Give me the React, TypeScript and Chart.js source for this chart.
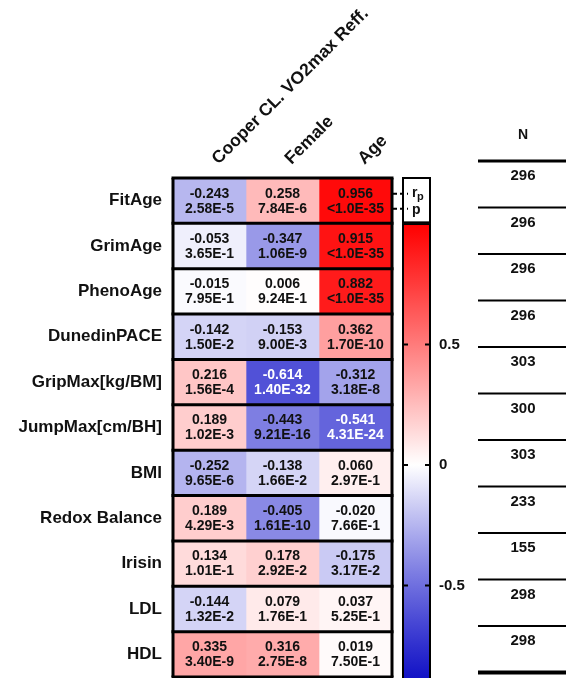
import React, { useEffect, useRef } from 'react';
import { Chart, registerables } from 'chart.js';
Chart.register(...registerables);

const rowLabels = ['FitAge', 'GrimAge', 'PhenoAge', 'DunedinPACE', 'GripMax[kg/BM]', 'JumpMax[cm/BH]', 'BMI', 'Redox Balance', 'Irisin', 'LDL', 'HDL'];
const colLabels = ['Cooper CL. VO2max Reff.', 'Female', 'Age'];

const rCooper = [-0.243, -0.053, -0.015, -0.142, 0.216, 0.189, -0.252, 0.189, 0.134, -0.144, 0.335];
const pCooper = ['2.58E-5', '3.65E-1', '7.95E-1', '1.50E-2', '1.56E-4', '1.02E-3', '9.65E-6', '4.29E-3', '1.01E-1', '1.32E-2', '3.40E-9'];
const rFemale = [0.258, -0.347, 0.006, -0.153, -0.614, -0.443, -0.138, -0.405, 0.178, 0.079, 0.316];
const pFemale = ['7.84E-6', '1.06E-9', '9.24E-1', '9.00E-3', '1.40E-32', '9.21E-16', '1.66E-2', '1.61E-10', '2.92E-2', '1.76E-1', '2.75E-8'];
const rAge = [0.956, 0.915, 0.882, 0.362, -0.312, -0.541, 0.060, -0.020, -0.175, 0.037, 0.019];
const pAge = ['<1.0E-35', '<1.0E-35', '<1.0E-35', '1.70E-10', '3.18E-8', '4.31E-24', '2.97E-1', '7.66E-1', '3.17E-2', '5.25E-1', '7.50E-1'];
const nValues = [296, 296, 296, 296, 303, 300, 303, 233, 155, 298, 298];
const colorTicks = [-0.5, 0, 0.5];
const colorTickLabels = ['-0.5', '0', '0.5'];

function cellColor(v: number): string {
  if (v >= 0) {
    const g = Math.round(255 * Math.pow(1 - v, 1.05));
    return `rgb(255,${g},${g})`;
  }
  const t = Math.min(1, -v);
  const rg = Math.round(255 * Math.pow(1 - t, 1.2));
  const b = Math.round(255 - t * 65);
  return `rgb(${rg},${rg},${b})`;
}

const FONT = '"Liberation Sans", Arial, Helvetica, sans-serif';

export default function App() {
  const ref = useRef<HTMLCanvasElement>(null);
  useEffect(() => {
    const canvas = ref.current!;
    const rCols = [rCooper, rFemale, rAge];
    const pCols = [pCooper, pFemale, pAge];
    const datasets = colLabels.map((c, j) => ({
      label: c,
      data: rowLabels.map(() => [j, j + 1]),
      backgroundColor: rCols[j].map(cellColor),
      borderWidth: 0,
      barPercentage: 1,
      categoryPercentage: 1,
      grouped: false,
      xAxisID: 'x',
      yAxisID: 'y',
    }));

    const plugin = {
      id: 'heatmapDecor',
      afterDraw(chart: any) {
        const ctx: CanvasRenderingContext2D = chart.ctx;
        const x = chart.scales.x;
        const y = chart.scales.y;
        const cb = chart.scales.cb;
        const ns = chart.scales.n;
        const left = x.getPixelForValue(0);
        const right = x.getPixelForValue(3);
        const rowH = y.getPixelForValue(1) - y.getPixelForValue(0);
        const top = y.getPixelForValue(0) - rowH / 2;
        const bottom = y.getPixelForValue(rowLabels.length - 1) + rowH / 2;
        ctx.save();

        // cell texts
        ctx.textAlign = 'center';
        ctx.textBaseline = 'middle';
        for (let j = 0; j < colLabels.length; j++) {
          const cx = x.getPixelForValue(j + 0.5);
          for (let i = 0; i < rowLabels.length; i++) {
            const cy = y.getPixelForValue(i);
            const v = rCols[j][i];
            ctx.fillStyle = v < -0.5 ? '#ffffff' : '#111111';
            ctx.font = `bold 14px ${FONT}`;
            ctx.fillText(v.toFixed(3), cx, cy - 7);
            ctx.fillText(pCols[j][i], cx, cy + 8);
          }
        }

        // row separators + border
        ctx.strokeStyle = '#000';
        ctx.lineWidth = 3;
        for (let i = 0; i <= rowLabels.length; i++) {
          const yy = top + i * rowH;
          ctx.beginPath();
          ctx.moveTo(left - 1.5, yy);
          ctx.lineTo(right + 1.5, yy);
          ctx.stroke();
        }
        ctx.beginPath();
        ctx.moveTo(left, top);
        ctx.lineTo(left, bottom);
        ctx.moveTo(right, top);
        ctx.lineTo(right, bottom);
        ctx.stroke();

        // row labels
        ctx.fillStyle = '#111';
        ctx.font = `bold 17px ${FONT}`;
        ctx.textAlign = 'right';
        ctx.textBaseline = 'middle';
        rowLabels.forEach((lab, i) => {
          ctx.fillText(lab, left - 11, y.getPixelForValue(i));
        });

        // column headers
        ctx.font = `bold 17.5px ${FONT}`;
        ctx.textAlign = 'left';
        ctx.textBaseline = 'alphabetic';
        colLabels.forEach((lab, j) => {
          ctx.save();
          ctx.translate(x.getPixelForValue(j + 0.5) + 9, top - 13);
          ctx.rotate(-Math.PI / 4);
          ctx.fillText(lab, 0, 0);
          ctx.restore();
        });

        // legend key box (r_p / p)
        const bx0 = right + 11;
        const bx1 = right + 38;
        const by0 = top;
        const by1 = top + rowH - 1;
        const rY = y.getPixelForValue(0) - 7;
        const pY = y.getPixelForValue(0) + 8;
        ctx.fillStyle = '#fff';
        ctx.fillRect(bx0, by0, bx1 - bx0, by1 - by0);
        ctx.lineWidth = 2;
        ctx.strokeStyle = '#000';
        ctx.strokeRect(bx0, by0, bx1 - bx0, by1 - by0);
        ctx.setLineDash([4, 3]);
        ctx.beginPath();
        ctx.moveTo(right + 1, rY);
        ctx.lineTo(bx0 + 5, rY);
        ctx.moveTo(right + 1, pY);
        ctx.lineTo(bx0 + 5, pY);
        ctx.stroke();
        ctx.setLineDash([]);
        ctx.fillStyle = '#111';
        ctx.font = `bold 14px ${FONT}`;
        ctx.textAlign = 'left';
        ctx.textBaseline = 'middle';
        ctx.fillText('r', bx0 + 9, rY - 1);
        ctx.font = `bold 11px ${FONT}`;
        ctx.fillText('p', bx0 + 14, rY + 3);
        ctx.font = `bold 14px ${FONT}`;
        ctx.fillText('p', bx0 + 9, pY + 1);

        // colorbar
        const cTop = cb.getPixelForValue(1);
        const cBot = cb.getPixelForValue(-1);
        const grad = ctx.createLinearGradient(0, cTop, 0, cBot);
        for (let s = 0; s <= 40; s++) {
          grad.addColorStop(s / 40, cellColor(1 - s / 20));
        }
        const cbH = chart.height - cTop + 5;
        ctx.fillStyle = grad;
        ctx.fillRect(bx0, cTop, bx1 - bx0, cbH);
        ctx.strokeRect(bx0, cTop, bx1 - bx0, cbH);
        ctx.fillStyle = '#111';
        ctx.font = `bold 15px ${FONT}`;
        ctx.textAlign = 'left';
        ctx.textBaseline = 'middle';
        colorTicks.forEach((t, k) => {
          const ty = cb.getPixelForValue(t);
          ctx.beginPath();
          ctx.moveTo(bx0, ty);
          ctx.lineTo(bx0 + 5, ty);
          ctx.moveTo(bx1 - 5, ty);
          ctx.lineTo(bx1, ty);
          ctx.stroke();
          ctx.fillText(colorTickLabels[k], bx1 + 9, ty);
        });

        // N column
        const nx0 = right + 86;
        const nx1 = chart.width;
        const ncx = nx0 + 45;
        ctx.textAlign = 'center';
        ctx.font = `bold 14px ${FONT}`;
        ctx.fillText('N', ncx, ns.getPixelForValue(0) - 26);
        for (let k = 0; k <= nValues.length; k++) {
          const ly = ns.getPixelForValue(k);
          ctx.lineWidth = k === 0 ? 3 : k === nValues.length ? 4 : 2;
          ctx.beginPath();
          ctx.moveTo(nx0, ly);
          ctx.lineTo(nx1, ly);
          ctx.stroke();
        }
        ctx.font = `bold 15px ${FONT}`;
        nValues.forEach((nv, k) => {
          ctx.fillText(String(nv), ncx, ns.getPixelForValue(k) + 15);
        });

        ctx.restore();
      },
    };

    const chart = new Chart(canvas, {
      type: 'bar',
      data: { labels: rowLabels, datasets: datasets as any },
      options: {
        indexAxis: 'y',
        responsive: false,
        animation: false,
        layout: { padding: { left: 173, top: 178, right: 174, bottom: 1 } },
        plugins: { legend: { display: false }, tooltip: { enabled: false } },
        scales: {
          x: { type: 'linear', min: 0, max: 3, display: false, offset: false },
          y: { type: 'category', offset: true, display: false },
          cb: { type: 'linear', axis: 'y', position: 'right', min: -0.88, max: 1.191, offset: false, display: false },
          n: { type: 'linear', axis: 'y', position: 'right', reverse: true, min: 0.3656, max: 11.097, offset: false, display: false },
        } as any,
      },
      plugins: [plugin],
    });
    return () => chart.destroy();
  }, []);
  return (
    <div style={{ position: 'absolute', left: 0, top: 0, width: 566, height: 678, background: '#fff' }}>
      <canvas ref={ref} width={566} height={678} style={{ display: 'block' }} />
    </div>
  );
}
